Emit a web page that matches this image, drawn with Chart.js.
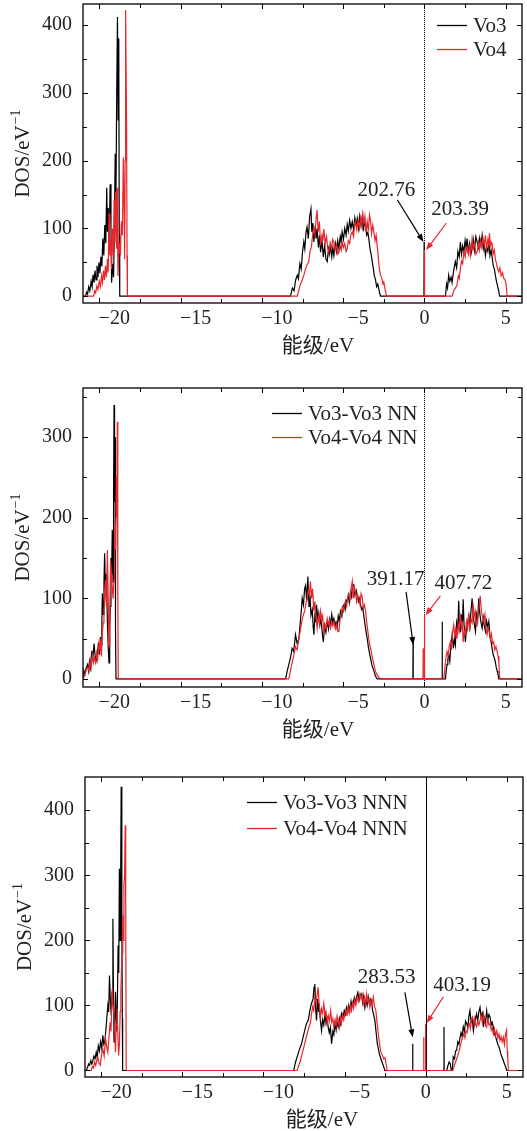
<!DOCTYPE html>
<html lang="zh">
<head>
<meta charset="UTF-8">
<title>DOS</title>
<script src="https://cdn.jsdelivr.net/npm/chart.js"></script>
<style>
  body { margin: 0; background: #fff; }
  .panel { position: absolute; left: 0; width: 527px; }
  canvas { display: block; }
</style>
</head>
<body>
<div class="panel" style="top:0px"><canvas id="c1" width="527" height="355"></canvas></div>
<div class="panel" style="top:355px"><canvas id="c2" width="527" height="390"></canvas></div>
<div class="panel" style="top:745px"><canvas id="c3" width="527" height="386"></canvas></div>
<script>
// tick values
const xTicks = [-20, -15, -10, -5, 0, 5];
const yTicksA = [0, 100, 200, 300, 400];
const yTicksB = [0, 100, 200, 300];

const legend1 = ['Vo3', 'Vo4'];
const legend2 = ['Vo3-Vo3 NN', 'Vo4-Vo4 NN'];
const legend3 = ['Vo3-Vo3 NNN', 'Vo4-Vo4 NNN'];

// [energy (eV), DOS]
const vo3 = [[-21,0],[-20.85,0],[-20.78,6],[-20.72,3],[-20.65,14],[-20.58,8],[-20.5,22],[-20.44,14],[-20.38,32],[-20.32,20],[-20.26,38],[-20.2,24],[-20.14,45],[-20.08,28],[-20.02,50],[-19.96,34],[-19.9,58],[-19.84,44],[-19.78,85],[-19.72,60],[-19.66,105],[-19.6,78],[-19.54,160],[-19.5,95],[-19.45,130],[-19.4,70],[-19.33,165],[-19.28,100],[-19.24,20],[-19.18,48],[-19.12,28],[-19.07,95],[-19.02,210],[-18.98,120],[-18.93,290],[-18.88,412],[-18.84,260],[-18.8,380],[-18.77,90],[-18.74,0],
  [-8.24,0],[-8.12,12],[-8.02,8],[-7.92,24],[-7.82,31],[-7.75,26],[-7.66,48],[-7.58,40],[-7.5,65],[-7.42,80],[-7.36,70],[-7.28,95],[-7.22,102],[-7.14,85],[-7.06,118],[-6.98,129],[-6.93,95],[-6.86,108],[-6.8,80],[-6.72,104],[-6.66,85],[-6.6,100],[-6.52,72],[-6.45,90],[-6.39,65],[-6.3,82],[-6.22,58],[-6.14,74],[-6.06,55],[-5.98,51],[-5.9,70],[-5.84,62],[-5.78,75],[-5.7,58],[-5.63,72],[-5.57,60],[-5.48,78],[-5.4,66],[-5.33,82],[-5.26,70],[-5.18,88],[-5.12,80],[-5.06,95],[-4.98,84],[-4.9,100],[-4.82,90],[-4.75,106],[-4.68,96],[-4.6,112],[-4.52,100],[-4.44,110],[-4.36,98],[-4.28,116],[-4.2,105],[-4.13,115],[-4.05,100],[-3.98,118],[-3.9,104],[-3.83,117],[-3.76,96],[-3.7,108],[-3.62,103],[-3.55,90],[-3.48,94],[-3.42,85],[-3.35,70],[-3.28,62],[-3.21,51],[-3.14,40],[-3.08,30],[-3.01,24],[-2.94,14],[-2.87,18],[-2.8,10],[-2.75,4],[-2.7,0],
  [-0.03,0],[-0.02,80],[-0.01,0],
  [1.29,0],[1.36,18],[1.42,12],[1.49,31],[1.56,22],[1.64,28],[1.7,20],[1.8,38],[1.9,51],[1.98,42],[2.06,66],[2.14,58],[2.21,80],[2.28,62],[2.35,74],[2.42,65],[2.5,82],[2.56,70],[2.62,85],[2.7,66],[2.78,78],[2.86,62],[2.93,70],[3.0,84],[3.08,68],[3.16,88],[3.24,80],[3.32,72],[3.4,86],[3.47,76],[3.55,90],[3.62,70],[3.68,78],[3.75,60],[3.82,72],[3.9,66],[3.96,82],[4.03,60],[4.1,68],[4.16,58],[4.23,45],[4.3,40],[4.36,31],[4.43,22],[4.5,15],[4.57,8],[4.62,0],[6,0]];

const vo4 = [[-21,0],[-20.35,0],[-20.28,8],[-20.22,5],[-20.15,15],[-20.08,10],[-20.0,22],[-19.93,14],[-19.86,30],[-19.8,20],[-19.74,38],[-19.68,24],[-19.62,45],[-19.56,28],[-19.5,55],[-19.45,35],[-19.4,122],[-19.35,60],[-19.3,85],[-19.24,40],[-19.18,100],[-19.13,60],[-19.09,142],[-19.04,80],[-18.99,154],[-18.94,70],[-18.89,160],[-18.85,30],[-18.78,80],[-18.7,60],[-18.64,110],[-18.58,90],[-18.52,205],[-18.47,120],[-18.44,55],[-18.41,200],[-18.38,422],[-18.32,250],[-18.29,60],[-18.27,0],
  [-7.82,0],[-7.72,10],[-7.62,18],[-7.52,24],[-7.42,31],[-7.32,40],[-7.22,46],[-7.11,51],[-7.04,66],[-6.96,72],[-6.9,85],[-6.82,100],[-6.74,92],[-6.66,115],[-6.6,127],[-6.54,95],[-6.46,110],[-6.39,75],[-6.3,90],[-6.24,82],[-6.19,99],[-6.1,78],[-6.02,88],[-5.95,70],[-5.88,65],[-5.8,78],[-5.72,70],[-5.64,84],[-5.57,80],[-5.5,68],[-5.42,76],[-5.34,62],[-5.26,65],[-5.18,74],[-5.12,68],[-5.06,80],[-4.98,72],[-4.9,78],[-4.82,66],[-4.75,70],[-4.68,82],[-4.6,78],[-4.52,92],[-4.44,95],[-4.36,88],[-4.3,104],[-4.24,110],[-4.16,98],[-4.08,112],[-4.0,100],[-3.93,115],[-3.86,105],[-3.79,122],[-3.72,108],[-3.66,118],[-3.59,95],[-3.52,110],[-3.45,96],[-3.38,120],[-3.32,112],[-3.25,92],[-3.18,105],[-3.11,95],[-3.04,82],[-2.97,90],[-2.91,75],[-2.84,58],[-2.77,40],[-2.7,31],[-2.62,26],[-2.55,18],[-2.5,21],[-2.42,10],[-2.33,0],
  [0,0],[0.005,68],[0.01,0],
  [1.7,0],[1.8,8],[1.9,12],[2.0,16],[2.08,30],[2.14,26],[2.21,41],[2.28,52],[2.35,48],[2.42,65],[2.5,58],[2.56,72],[2.62,70],[2.7,62],[2.76,76],[2.82,60],[2.88,72],[2.93,85],[3.0,70],[3.08,78],[3.16,62],[3.24,65],[3.32,80],[3.38,68],[3.45,80],[3.52,72],[3.6,86],[3.68,75],[3.75,90],[3.82,70],[3.9,84],[3.96,75],[4.0,93],[4.06,72],[4.1,80],[4.16,78],[4.22,62],[4.3,68],[4.36,55],[4.43,48],[4.5,40],[4.57,36],[4.64,42],[4.72,30],[4.8,35],[4.88,26],[4.95,25],[5.02,18],[5.08,0],[6,0]];

const vo3nn = [[-21,4],[-20.94,10],[-20.88,6],[-20.8,14],[-20.72,18],[-20.66,10],[-20.6,22],[-20.54,14],[-20.46,35],[-20.4,24],[-20.32,44],[-20.26,30],[-20.2,22],[-20.12,28],[-20.05,45],[-19.99,30],[-19.93,52],[-19.88,42],[-19.84,70],[-19.81,106],[-19.76,80],[-19.71,120],[-19.67,156],[-19.62,110],[-19.58,130],[-19.55,123],[-19.5,70],[-19.45,40],[-19.4,20],[-19.36,60],[-19.32,90],[-19.28,150],[-19.24,130],[-19.2,185],[-19.15,120],[-19.12,230],[-19.09,340],[-19.06,220],[-19.03,300],[-19.0,60],[-18.97,0],
  [-8.54,0],[-8.44,10],[-8.34,18],[-8.24,26],[-8.14,38],[-8.04,34],[-7.93,55],[-7.83,44],[-7.72,50],[-7.64,70],[-7.56,88],[-7.52,100],[-7.44,92],[-7.37,112],[-7.31,116],[-7.24,96],[-7.17,127],[-7.1,90],[-7.04,104],[-6.98,79],[-6.9,86],[-6.84,64],[-6.8,55],[-6.74,78],[-6.68,70],[-6.64,92],[-6.56,74],[-6.5,82],[-6.43,67],[-6.36,76],[-6.3,60],[-6.22,46],[-6.14,66],[-6.06,58],[-5.98,71],[-5.9,62],[-5.84,74],[-5.78,67],[-5.7,80],[-5.64,70],[-5.57,75],[-5.5,66],[-5.44,72],[-5.37,63],[-5.3,78],[-5.24,72],[-5.16,84],[-5.08,78],[-5.02,90],[-4.95,92],[-4.88,86],[-4.82,98],[-4.75,96],[-4.68,104],[-4.62,95],[-4.55,108],[-4.48,102],[-4.42,118],[-4.34,116],[-4.28,104],[-4.2,110],[-4.14,104],[-4.06,96],[-4.0,100],[-3.93,92],[-3.86,86],[-3.8,88],[-3.73,79],[-3.66,68],[-3.6,60],[-3.52,50],[-3.45,40],[-3.38,32],[-3.32,26],[-3.24,18],[-3.18,14],[-3.11,10],[-3.02,4],[-2.91,0],
  [-0.71,0],[-0.7,46],[-0.69,0],
  [1.08,0],[1.09,71],[1.1,0],
  [1.29,0],[1.34,10],[1.39,18],[1.44,24],[1.49,30],[1.56,22],[1.62,40],[1.7,55],[1.78,38],[1.84,50],[1.9,42],[1.98,70],[2.05,62],[2.11,97],[2.16,60],[2.21,59],[2.28,80],[2.34,70],[2.38,99],[2.44,66],[2.52,46],[2.58,62],[2.66,70],[2.73,79],[2.8,64],[2.86,84],[2.93,100],[3.0,76],[3.07,68],[3.14,59],[3.2,80],[3.27,72],[3.34,100],[3.4,82],[3.48,70],[3.55,63],[3.62,76],[3.68,66],[3.75,59],[3.82,72],[3.9,64],[3.96,71],[4.03,52],[4.1,46],[4.16,38],[4.23,30],[4.3,26],[4.36,21],[4.42,14],[4.47,10],[4.52,6],[4.57,0],[6,0]];

const vo4nn = [[-21,0],[-20.92,4],[-20.85,8],[-20.78,12],[-20.7,15],[-20.63,10],[-20.56,22],[-20.5,14],[-20.43,30],[-20.36,20],[-20.3,26],[-20.22,20],[-20.16,32],[-20.1,24],[-20.02,44],[-19.96,36],[-19.91,50],[-19.87,28],[-19.8,60],[-19.75,70],[-19.71,86],[-19.66,100],[-19.61,123],[-19.56,90],[-19.5,160],[-19.45,100],[-19.4,40],[-19.35,90],[-19.3,146],[-19.25,130],[-19.2,114],[-19.15,100],[-19.09,123],[-19.06,150],[-19.03,193],[-18.99,160],[-18.95,250],[-18.92,200],[-18.89,319],[-18.86,120],[-18.83,0],
  [-8.34,0],[-8.24,10],[-8.14,20],[-8.03,30],[-7.93,40],[-7.83,36],[-7.72,50],[-7.62,62],[-7.52,74],[-7.44,80],[-7.37,84],[-7.29,94],[-7.21,100],[-7.14,110],[-7.07,104],[-7.01,121],[-6.94,100],[-6.88,112],[-6.8,84],[-6.74,96],[-6.66,74],[-6.6,63],[-6.52,78],[-6.46,70],[-6.39,84],[-6.32,72],[-6.26,78],[-6.19,58],[-6.12,68],[-6.05,62],[-5.98,75],[-5.9,68],[-5.84,72],[-5.78,63],[-5.7,70],[-5.64,66],[-5.57,71],[-5.48,62],[-5.4,68],[-5.33,60],[-5.26,59],[-5.19,74],[-5.12,80],[-5.06,88],[-4.98,84],[-4.92,94],[-4.85,96],[-4.78,90],[-4.72,102],[-4.65,104],[-4.58,98],[-4.51,112],[-4.44,121],[-4.38,100],[-4.31,114],[-4.24,108],[-4.17,96],[-4.1,104],[-4.03,100],[-3.96,92],[-3.9,106],[-3.83,102],[-3.76,88],[-3.69,92],[-3.62,84],[-3.55,70],[-3.48,59],[-3.41,48],[-3.34,40],[-3.27,34],[-3.2,26],[-3.11,18],[-3.02,10],[-2.91,5],[-2.74,0],
  [-0.09,0],[-0.08,38],[-0.07,0],
  [0,0],[0.005,80],[0.01,0],
  [1.19,0],[1.26,14],[1.32,26],[1.39,34],[1.46,28],[1.52,40],[1.6,46],[1.66,36],[1.73,58],[1.8,67],[1.86,54],[1.93,62],[2.0,50],[2.07,68],[2.14,60],[2.21,81],[2.28,64],[2.33,72],[2.38,46],[2.45,60],[2.52,56],[2.58,71],[2.65,62],[2.72,80],[2.79,59],[2.86,74],[2.93,70],[2.99,94],[3.05,76],[3.12,84],[3.18,70],[3.24,67],[3.3,82],[3.37,90],[3.43,103],[3.5,84],[3.58,76],[3.65,71],[3.72,80],[3.78,62],[3.85,55],[3.92,64],[3.99,58],[4.06,50],[4.12,56],[4.19,44],[4.26,46],[4.33,36],[4.4,40],[4.47,34],[4.53,28],[4.58,20],[4.63,0],[6,0]];

const vo3nnn = [[-21,0],[-20.93,0],[-20.85,4],[-20.78,10],[-20.72,8],[-20.64,15],[-20.58,10],[-20.52,15],[-20.45,22],[-20.38,18],[-20.31,28],[-20.25,20],[-20.18,38],[-20.11,30],[-20.04,44],[-19.97,34],[-19.9,54],[-19.84,40],[-19.78,44],[-19.72,60],[-19.66,80],[-19.59,100],[-19.54,90],[-19.49,146],[-19.44,110],[-19.38,85],[-19.33,120],[-19.28,233],[-19.24,100],[-19.21,44],[-19.16,70],[-19.12,121],[-19.08,90],[-19.04,60],[-19.0,110],[-18.96,192],[-18.92,150],[-18.88,310],[-18.84,200],[-18.8,300],[-18.77,436],[-18.73,245],[-18.7,80],[-18.68,0],
  [-8.13,0],[-8.05,10],[-7.96,18],[-7.86,26],[-7.76,34],[-7.65,41],[-7.55,52],[-7.45,62],[-7.35,72],[-7.24,77],[-7.14,92],[-7.04,103],[-6.94,110],[-6.88,128],[-6.83,133],[-6.78,95],[-6.73,77],[-6.66,110],[-6.6,90],[-6.57,103],[-6.5,80],[-6.42,61],[-6.35,78],[-6.28,70],[-6.21,87],[-6.14,72],[-6.07,80],[-6.01,67],[-5.94,58],[-5.87,66],[-5.8,41],[-5.72,60],[-5.66,55],[-5.6,72],[-5.52,62],[-5.46,74],[-5.39,67],[-5.32,80],[-5.26,72],[-5.19,87],[-5.1,80],[-5.02,92],[-4.95,86],[-4.88,97],[-4.8,90],[-4.74,100],[-4.67,92],[-4.6,106],[-4.54,98],[-4.47,103],[-4.4,112],[-4.33,104],[-4.26,113],[-4.18,120],[-4.1,108],[-4.02,116],[-3.95,118],[-3.88,104],[-3.82,114],[-3.75,97],[-3.68,108],[-3.61,100],[-3.54,113],[-3.47,102],[-3.4,110],[-3.34,108],[-3.27,92],[-3.2,85],[-3.13,77],[-3.06,60],[-2.98,41],[-2.92,34],[-2.86,26],[-2.79,20],[-2.72,15],[-2.62,8],[-2.51,0],
  [-0.81,0],[-0.8,41],[-0.79,0],
  [1.12,0],[1.13,67],[1.14,0],
  [1.3,0],[1.38,8],[1.45,13],[1.52,10],[1.58,0],[1.64,0],[1.7,21],[1.78,18],[1.84,30],[1.91,31],[1.98,44],[2.05,40],[2.12,51],[2.18,58],[2.25,52],[2.32,67],[2.39,60],[2.46,76],[2.53,72],[2.6,66],[2.67,84],[2.73,92],[2.8,74],[2.87,80],[2.94,61],[3.0,72],[3.07,80],[3.14,87],[3.2,76],[3.28,90],[3.35,97],[3.42,82],[3.49,88],[3.56,67],[3.62,80],[3.69,72],[3.76,92],[3.83,78],[3.9,86],[3.97,82],[4.04,70],[4.1,74],[4.17,67],[4.24,56],[4.31,52],[4.38,46],[4.45,40],[4.52,36],[4.58,31],[4.65,24],[4.72,20],[4.79,15],[4.86,10],[4.93,6],[4.99,0],[6,0]];

const vo4nnn = [[-21,0],[-20.62,0],[-20.55,6],[-20.48,4],[-20.41,13],[-20.34,8],[-20.27,16],[-20.21,20],[-20.14,12],[-20.06,8],[-19.98,24],[-19.9,33],[-19.82,22],[-19.73,49],[-19.66,36],[-19.59,28],[-19.52,52],[-19.45,74],[-19.4,60],[-19.36,90],[-19.32,126],[-19.27,100],[-19.22,85],[-19.17,60],[-19.12,28],[-19.08,70],[-19.03,95],[-18.98,60],[-18.93,23],[-18.88,40],[-18.83,91],[-18.79,120],[-18.75,156],[-18.71,180],[-18.67,238],[-18.63,200],[-18.6,285],[-18.56,300],[-18.52,377],[-18.49,250],[-18.46,0],
  [-7.92,0],[-7.82,8],[-7.72,15],[-7.62,26],[-7.51,36],[-7.41,46],[-7.31,56],[-7.2,66],[-7.1,74],[-7.04,87],[-6.96,98],[-6.9,92],[-6.83,113],[-6.76,104],[-6.68,118],[-6.63,128],[-6.56,100],[-6.48,82],[-6.42,95],[-6.35,88],[-6.28,103],[-6.2,84],[-6.14,90],[-6.07,72],[-6.0,84],[-5.93,76],[-5.86,92],[-5.79,74],[-5.72,80],[-5.66,67],[-5.58,78],[-5.52,70],[-5.46,84],[-5.39,77],[-5.32,66],[-5.26,80],[-5.19,72],[-5.12,86],[-5.05,78],[-4.98,87],[-4.91,92],[-4.85,84],[-4.78,97],[-4.71,88],[-4.64,100],[-4.57,92],[-4.5,104],[-4.44,96],[-4.37,108],[-4.3,100],[-4.22,112],[-4.14,106],[-4.05,118],[-3.98,110],[-3.92,116],[-3.85,103],[-3.78,112],[-3.71,100],[-3.64,118],[-3.57,106],[-3.5,110],[-3.44,97],[-3.37,108],[-3.3,100],[-3.23,113],[-3.15,98],[-3.07,92],[-3.0,74],[-2.92,56],[-2.85,42],[-2.78,30],[-2.72,26],[-2.65,22],[-2.58,18],[-2.51,20],[-2.44,10],[-2.37,0],
  [-0.13,0],[-0.12,51],[-0.11,0],
  [-0.02,0],[-0.01,72],[0,0],
  [1.67,0],[1.77,8],[1.87,15],[1.97,22],[2.07,31],[2.14,38],[2.21,46],[2.28,51],[2.35,56],[2.42,50],[2.48,61],[2.55,58],[2.62,70],[2.69,72],[2.76,64],[2.82,78],[2.89,82],[2.96,72],[3.02,80],[3.08,70],[3.14,67],[3.21,76],[3.28,70],[3.35,77],[3.42,84],[3.49,74],[3.56,87],[3.62,76],[3.69,70],[3.76,67],[3.83,80],[3.9,70],[3.97,72],[4.04,62],[4.1,66],[4.17,56],[4.24,64],[4.31,54],[4.38,61],[4.45,50],[4.52,56],[4.58,46],[4.65,52],[4.72,44],[4.79,51],[4.86,40],[4.92,55],[4.99,62],[5.03,30],[5.06,20],[5.1,0],[6,0]];

// labelled peaks: [text, text x, text y, arrow start x, y, arrow end x, y] (data units)
const notes1 = [['202.76', -2.34, 156, -1.66, 142, -0.06, 80], ['203.39', 2.2, 128, 1.35, 108, 0.1, 68]];
const notes2 = [['391.17', -1.78, 123, -1.13, 108, -0.69, 42], ['407.72', 2.4, 119, 0.98, 103, 0.06, 79]];
const notes3 = [['283.53', -2.4, 143, -1.28, 120, -0.8, 51], ['403.19', 2.24, 131, 1.09, 113, 0.06, 73]];

const SERIF = '"Liberation Serif", "DejaVu Serif", "Noto Sans CJK SC", serif';
const COLORS = ['#000000', '#e8262b'];
const TEXT = '#222222';

function toXY(pairs) {
  return pairs.map(p => ({ x: p[0], y: p[1] }));
}

function arrow(ctx, x0, y0, x1, y1) {
  const ang = Math.atan2(y1 - y0, x1 - x0);
  ctx.beginPath();
  ctx.moveTo(x0, y0);
  ctx.lineTo(x1 - 6 * Math.cos(ang), y1 - 6 * Math.sin(ang));
  ctx.stroke();
  ctx.beginPath();
  ctx.moveTo(x1, y1);
  ctx.lineTo(x1 - 8 * Math.cos(ang) + 3 * Math.sin(ang), y1 - 8 * Math.sin(ang) - 3 * Math.cos(ang));
  ctx.lineTo(x1 - 8 * Math.cos(ang) - 3 * Math.sin(ang), y1 - 8 * Math.sin(ang) + 3 * Math.cos(ang));
  ctx.closePath();
  ctx.fill();
}

function makePanel(id, cfg) {
  const canvas = document.getElementById(id);
  const H = canvas.height;
  const area = cfg.area;

  const decor = {
    id: 'decor',
    beforeDatasetsDraw(chart) {
      // vertical reference line at E = 0
      const ctx = chart.ctx, a = chart.chartArea;
      const x0 = Math.round(chart.scales.x.getPixelForValue(0)) + 0.5;
      ctx.save();
      ctx.strokeStyle = '#000';
      ctx.lineWidth = 1;
      if (cfg.dotted) ctx.setLineDash([1, 1]);
      ctx.beginPath();
      ctx.moveTo(x0, a.top);
      ctx.lineTo(x0, a.bottom);
      ctx.stroke();
      ctx.restore();
    },
    afterDatasetsDraw(chart) {
      const ctx = chart.ctx, a = chart.chartArea;
      const xs = chart.scales.x, ys = chart.scales.y;
      ctx.save();
      // frame
      ctx.strokeStyle = '#000';
      ctx.lineWidth = 1.3;
      ctx.strokeRect(a.left, a.top, a.right - a.left, a.bottom - a.top);
      // inner ticks, all four sides
      ctx.lineWidth = 1;
      ctx.beginPath();
      for (let v = -20; v <= 5; v += 2.5) {
        const px = Math.round(xs.getPixelForValue(v)) + 0.5;
        const len = v % 5 === 0 ? 5 : 4;
        ctx.moveTo(px, a.bottom); ctx.lineTo(px, a.bottom - len);
        ctx.moveTo(px, a.top); ctx.lineTo(px, a.top + len);
      }
      for (let v = 0; v < ys.max - 2; v += 50) {
        const py = Math.round(ys.getPixelForValue(v)) + 0.5;
        const len = v % 100 === 0 ? 5 : 4;
        ctx.moveTo(a.left, py); ctx.lineTo(a.left + len, py);
        ctx.moveTo(a.right, py); ctx.lineTo(a.right - len, py);
      }
      ctx.stroke();

      // peak labels with arrows
      ctx.font = '21px ' + SERIF;
      ctx.textAlign = 'center';
      ctx.textBaseline = 'middle';
      cfg.notes.forEach((n, i) => {
        ctx.fillStyle = TEXT;
        ctx.fillText(n[0], xs.getPixelForValue(n[1]), ys.getPixelForValue(n[2]));
        ctx.fillStyle = COLORS[i];
        ctx.strokeStyle = COLORS[i];
        ctx.lineWidth = 1.2;
        arrow(ctx, xs.getPixelForValue(n[3]), ys.getPixelForValue(n[4]),
          xs.getPixelForValue(n[5]), ys.getPixelForValue(n[6]));
      });

      // legend
      ctx.textAlign = 'left';
      cfg.legend.forEach((label, i) => {
        const lx = a.left + cfg.legendX;
        const ly = a.top + cfg.legendY[i];
        ctx.strokeStyle = COLORS[i];
        ctx.lineWidth = 1.3;
        ctx.beginPath();
        ctx.moveTo(lx, ly + 0.5);
        ctx.lineTo(lx + 30, ly + 0.5);
        ctx.stroke();
        ctx.fillStyle = TEXT;
        ctx.fillText(label, lx + 36, ly + 1);
      });
      ctx.restore();
    },
    afterDraw(chart) {
      const ctx = chart.ctx, a = chart.chartArea;
      ctx.save();
      ctx.fillStyle = TEXT;
      // x title
      ctx.font = '21px ' + SERIF;
      ctx.textAlign = 'center';
      ctx.textBaseline = 'middle';
      ctx.fillText('能级/eV', cfg.xTitleX, a.bottom + 43);
      // y title with superscript
      const main = 'DOS/eV', sup = '\u22121';
      ctx.font = '21px ' + SERIF;
      const w1 = ctx.measureText(main).width;
      ctx.font = '14px ' + SERIF;
      const w2 = ctx.measureText(sup).width;
      ctx.translate(cfg.yTitleX, (a.top + a.bottom) / 2);
      ctx.rotate(-Math.PI / 2);
      ctx.textAlign = 'left';
      ctx.textBaseline = 'alphabetic';
      const x0 = -(w1 + w2 + 1) / 2;
      ctx.font = '21px ' + SERIF;
      ctx.fillText(main, x0, 7);
      ctx.font = '14px ' + SERIF;
      ctx.fillText(sup, x0 + w1 + 1, -2);
      ctx.restore();
    }
  };

  return new Chart(canvas, {
    type: 'line',
    data: {
      datasets: cfg.series.map((s, i) => ({
        label: cfg.legend[i],
        data: toXY(s),
        borderColor: COLORS[i],
        borderWidth: 1.2,
        pointRadius: 0,
        tension: 0,
        fill: false,
        order: i === 0 ? 1 : 0
      }))
    },
    options: {
      responsive: false,
      animation: false,
      events: [],
      layout: {
        autoPadding: false,
        padding: { left: 0, top: area.top, right: canvas.width - area.right, bottom: 0 }
      },
      plugins: { legend: { display: false }, tooltip: { enabled: false } },
      scales: {
        x: {
          type: 'linear',
          min: -21,
          max: 6,
          grid: { display: false, drawTicks: false },
          border: { display: false },
          afterBuildTicks: s => { s.ticks = xTicks.map(v => ({ value: v })); },
          afterFit: s => { s.height = H - area.bottom; s.paddingLeft = 0; s.paddingRight = 0; },
          ticks: {
            autoSkip: false,
            maxRotation: 0,
            padding: 4,
            color: TEXT,
            font: { family: SERIF, size: 20 },
            callback: v => v < 0 ? '\u2002\u2002\u2002\u2212' + Math.abs(v) : String(v)
          }
        },
        y: {
          type: 'linear',
          min: -10,
          max: cfg.yMax,
          grid: { display: false, drawTicks: false },
          border: { display: false },
          afterBuildTicks: s => { s.ticks = cfg.yTicks.map(v => ({ value: v })); },
          afterFit: s => { s.width = area.left; s.paddingTop = 0; s.paddingBottom = 0; },
          ticks: {
            padding: 11,
            color: TEXT,
            font: { family: SERIF, size: 20 },
            callback: v => String(v)
          }
        }
      }
    },
    plugins: [decor]
  });
}

makePanel('c1', {
  area: { left: 83, right: 522, top: 4, bottom: 303 },
  yMax: 431, yTicks: yTicksA,
  series: [vo3, vo4], legend: legend1, notes: notes1,
  legendX: 354, legendY: [21, 45],
  dotted: true, xTitleX: 318, yTitleX: 22
});
makePanel('c2', {
  area: { left: 83, right: 522, top: 33, bottom: 332 },
  yMax: 361, yTicks: yTicksB,
  series: [vo3nn, vo4nn], legend: legend2, notes: notes2,
  legendX: 189, legendY: [25, 49],
  dotted: true, xTitleX: 318, yTitleX: 22
});
makePanel('c3', {
  area: { left: 85, right: 523, top: 32, bottom: 332 },
  yMax: 451, yTicks: yTicksA,
  series: [vo3nnn, vo4nnn], legend: legend3, notes: notes3,
  legendX: 162, legendY: [25, 51],
  dotted: false, xTitleX: 322, yTitleX: 24
});
</script>
</body>
</html>
